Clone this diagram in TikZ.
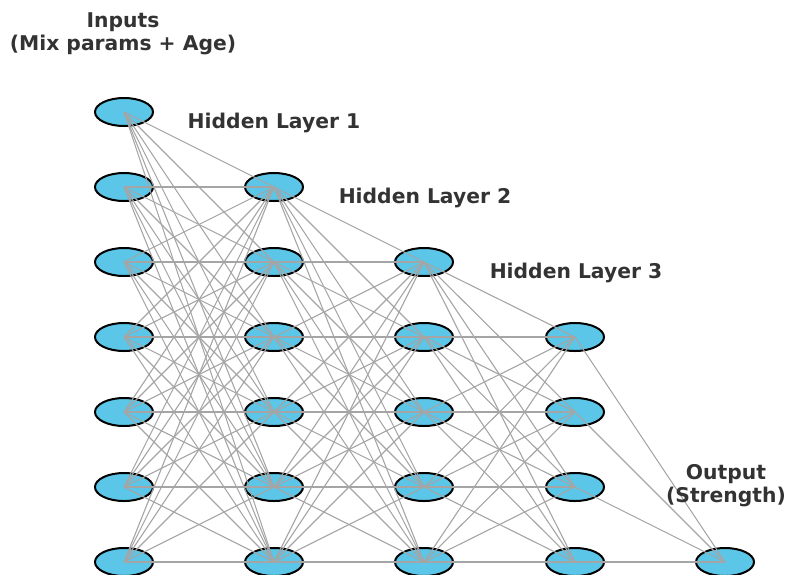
\documentclass[tikz,border=0pt]{standalone}
\usepackage{fontspec}
\setmainfont{DejaVu Sans}
\usetikzlibrary{shapes.geometric}
\definecolor{neuronfill}{RGB}{91,198,232}
\definecolor{synapsegray}{RGB}{165,165,165}
\definecolor{labelgray}{RGB}{51,51,51}
\begin{document}
\begin{tikzpicture}[x=1pt,y=-1pt,
  neuron/.style={ellipse, draw=black, line width=2pt, fill=neuronfill,
    minimum width=58pt, minimum height=28pt, inner sep=0pt},
  synapse/.style={draw=synapsegray, line width=1.1pt},
  layerlabel/.style={text=labelgray, font=\bfseries\fontsize{20.3}{22.5}\selectfont,
    inner sep=0pt, align=center}]
\useasboundingbox (0,0) rectangle (786,574);
\clip (0,0) rectangle (786,574);

% neurons: layer / x position / first occupied row (rows run 1..7)
\foreach \l/\x/\first in {0/124/1, 1/274/2, 2/424/3, 3/575/4, 4/725/7}
  \foreach \r in {\first,...,7}
    \node[neuron] (n-\l-\r) at (\x, {37+75*\r}) {};

% fully connected links between consecutive layers
\foreach \l/\fa/\nl/\fb in {0/1/1/2, 1/2/2/3, 2/3/3/4, 3/4/4/7}
  \foreach \a in {\fa,...,7}
    \foreach \b in {\fb,...,7}
      \draw[synapse] (n-\l-\a.center) -- (n-\nl-\b.center);

% layer captions (base anchor sits on the last line of a two-line caption)
\node[layerlabel, anchor=base] (lbl-in) at (123,50) {Inputs\\(Mix params + Age)};
\node[layerlabel, anchor=base] (lbl-h1) at (274,128) {Hidden Layer 1};
\node[layerlabel, anchor=base] (lbl-h2) at (425,203) {Hidden Layer 2};
\node[layerlabel, anchor=base] (lbl-h3) at (576,278) {Hidden Layer 3};
\node[layerlabel, anchor=base] (lbl-out) at (726,502) {Output\\(Strength)};
\end{tikzpicture}
\end{document}
